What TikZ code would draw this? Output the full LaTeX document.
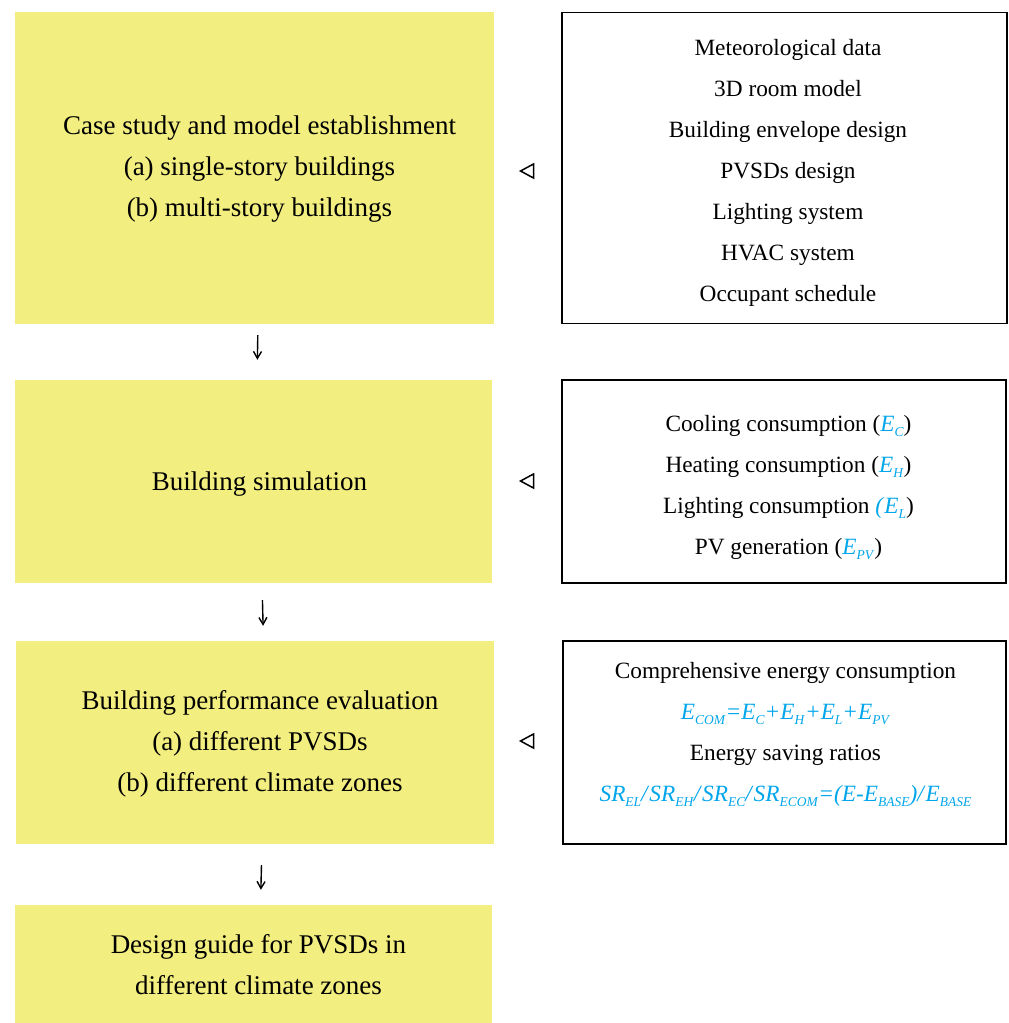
\documentclass[tikz,border=0pt]{standalone}
\usepackage{fontspec}
\setmainfont{Liberation Serif}
\usetikzlibrary{arrows.meta}
\definecolor{boxyellow}{RGB}{242,238,128}
\definecolor{formblue}{RGB}{0,166,235}
\newcommand{\Es}[2]{\textit{#1}\raisebox{-0.5ex}{\fontsize{13.5}{13.5}\selectfont\textit{#2}}}
\newcommand{\Bl}[1]{{\color{formblue}#1}}
\begin{document}
\begin{tikzpicture}[x=1pt,y=-1pt,
  stagebox/.style={fill=boxyellow, draw=none, inner sep=0pt},
  stagetext/.style={inner sep=0pt, align=center, font=\fontsize{27}{41}\selectfont},
  infobox/.style={draw=black, line width=1.3pt, fill=white, inner sep=0pt},
  infotext/.style={inner sep=0pt, align=center, font=\fontsize{23.3}{41}\selectfont},
  flow/.style={-{Straight Barb[length=7pt,width=8pt]}, line width=1.4pt},
  feedmark/.style={draw=black, line width=1.5pt, line join=miter}]
\useasboundingbox (0,0) rectangle (1009,1023);

% left stage boxes
\node[stagebox, minimum width=479pt, minimum height=312pt] (b1) at (254.5,168) {};
\node[stagebox, minimum width=477pt, minimum height=203pt] (b2) at (253.5,481.5) {};
\node[stagebox, minimum width=478pt, minimum height=203pt] (b3) at (255,742.5) {};
\node[stagebox, minimum width=477pt, minimum height=118pt] (b4) at (253.5,964) {};
\node[stagetext] (b1t) at ([xshift=5pt,yshift=-1pt]b1.center)
  {Case study and model establishment\\(a) single-story buildings\\(b) multi-story buildings};
\node[stagetext] (b2t) at ([xshift=6pt,yshift=-3pt]b2.center) {Building simulation};
\node[stagetext] (b3t) at ([xshift=5pt,yshift=-1pt]b3.center)
  {Building performance evaluation\\(a) different PVSDs\\(b) different climate zones};
\node[stagetext] (b4t) at ([xshift=5pt,yshift=-1pt]b4.center)
  {Design guide for PVSDs in\\different climate zones};

% right info boxes
\node[infobox, minimum width=445pt, minimum height=311pt] (r1) at (784.5,168) {};
\node[infobox, minimum width=444pt, minimum height=203pt] (r2) at (784,481.5) {};
\node[infobox, minimum width=443pt, minimum height=203pt] (r3) at (784.5,742.5) {};
\node[infotext] (r1t) at ([xshift=3.5pt,yshift=-5pt]r1.center)
  {Meteorological data\\3D room model\\Building envelope design\\PVSDs design\\Lighting system\\HVAC system\\Occupant schedule};
\node[infotext] (r2t) at ([xshift=4.5pt,yshift=-6pt]r2.center)
  {Cooling consumption (\Bl{\Es{E}{C}})\\
   Heating consumption (\Bl{\Es{E}{H}})\\
   Lighting consumption \Bl{\textit{(}\Es{E}{L}})\\
   PV generation (\Bl{\Es{E}{PV}})};
\node[infotext] (r3t) at ([xshift=1pt,yshift=8pt]r3.center)
  {Comprehensive energy consumption\\
   \Bl{\Es{E}{COM}\textit{=}\Es{E}{C}\textit{+}\Es{E}{H}\textit{+}\Es{E}{L}\textit{+}\Es{E}{PV}}\\
   Energy saving ratios\\
   \Bl{\Es{SR}{EL}\textit{/}\Es{SR}{EH}\textit{/}\Es{SR}{EC}\textit{/}\Es{SR}{ECOM}\textit{=(E-}\Es{E}{BASE}\textit{)/}\Es{E}{BASE}}};

% flow arrows
\draw[flow, shorten <=11pt, shorten >=20pt] ([xshift=3.5pt]b1.south) -- ([xshift=3.5pt]b2.north);
\draw[flow, shorten <=17pt, shorten >=15pt] ([xshift=8.5pt]b2.south) -- ([xshift=8.5pt]b3.north);
\draw[flow, shorten <=21pt, shorten >=15pt] ([xshift=7pt]b3.south) -- ([xshift=7pt]b4.north);

% input markers
\coordinate (t1) at (527,171);
\coordinate (t2) at (527,481);
\coordinate (t3) at (527,741);
\foreach \t in {t1,t2,t3}
  \draw[feedmark] (\t) ++(6.5,-7) -- ++(-13,7) -- ++(13,7) -- cycle;
\end{tikzpicture}
\end{document}
